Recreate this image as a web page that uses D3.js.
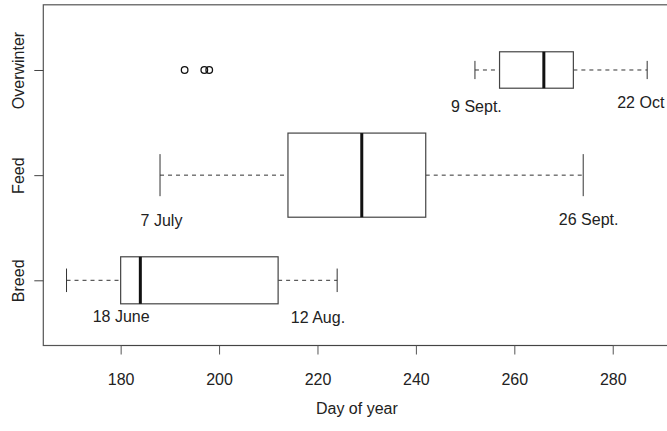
<!DOCTYPE html>
<html>
<head>
<meta charset="utf-8">
<script src="https://cdn.jsdelivr.net/npm/d3@7"></script>
<style>
  body { margin: 0; background: #fff; }
  svg text { font-family: "Liberation Sans", Arial, sans-serif; font-size: 16px; fill: #222; }
</style>
</head>
<body>
<div id="chart"></div>
<script>
// boxplot stats, one entry per stage (bottom to top)
const stages = ["Breed", "Feed", "Overwinter"];
const counts = [10, 32, 6];
const whiskerLow = [169, 188, 252];
const lowerQuart = [180, 214, 257];
const medians = [184, 229, 266];
const upperQuart = [212, 242, 272];
const whiskerHigh = [224, 274, 287];
const outliers = [[], [], [193, 197, 198]];
const xTicks = [180, 200, 220, 240, 260, 280];

// date notes, placed in data units (day, stage position)
const noteText = ["18 June", "12 Aug.", "7 July", "26 Sept.", "9 Sept.", "22 Oct"];
const noteDay = [180.1, 220.1, 188.3, 275.1, 252.3, 285.7];
const notePos = [0.663, 0.647, 1.568, 1.584, 2.66, 2.69];

let width = 667;
let height = 431;

let svg = d3.select("#chart").append("svg")
    .attr("width", width)
    .attr("height", height);

let x = d3.scaleLinear()
    .domain([164.28, 291.72])
    .range([43.3, 670.4]);

let y = d3.scaleLinear()
    .domain([0.38, 3.62])
    .range([345.5, 4.8]);

let unit = y(1) - y(2);
let maxRoot = d3.max(counts, c => Math.sqrt(c));

let data = stages.map((s, i) => ({
    name: s,
    pos: i + 1,
    half: 0.4 * unit * Math.sqrt(counts[i]) / maxRoot,
    lo: whiskerLow[i], q1: lowerQuart[i], med: medians[i], q3: upperQuart[i], hi: whiskerHigh[i],
    out: outliers[i]
}));

// frame
svg.append("rect")
    .attr("x", x.range()[0])
    .attr("y", y.range()[1])
    .attr("width", x.range()[1] - x.range()[0])
    .attr("height", y.range()[0] - y.range()[1])
    .attr("fill", "none")
    .attr("stroke", "#555")
    .attr("stroke-width", 1.2);

let g = svg.append("g");

const box = g.selectAll("g.box").data(data).enter().append("g").attr("class", "box");

// whiskers
box.append("line")
    .attr("x1", d => x(d.lo)).attr("x2", d => x(d.q1))
    .attr("y1", d => y(d.pos)).attr("y2", d => y(d.pos))
    .attr("stroke", "#333").attr("stroke-dasharray", "4,4");
box.append("line")
    .attr("x1", d => x(d.q3)).attr("x2", d => x(d.hi))
    .attr("y1", d => y(d.pos)).attr("y2", d => y(d.pos))
    .attr("stroke", "#333").attr("stroke-dasharray", "4,4");

// staples
box.selectAll("line.cap").data(d => [d.lo, d.hi].map(v => ({v: v, d: d}))).enter()
    .append("line")
    .attr("class", "cap")
    .attr("x1", e => x(e.v)).attr("x2", e => x(e.v))
    .attr("y1", e => y(e.d.pos) - e.d.half / 2)
    .attr("y2", e => y(e.d.pos) + e.d.half / 2)
    .attr("stroke", "#333");

// box
box.append("rect")
    .attr("x", d => x(d.q1))
    .attr("y", d => y(d.pos) - d.half)
    .attr("width", d => x(d.q3) - x(d.q1))
    .attr("height", d => 2 * d.half)
    .attr("fill", "#fff")
    .attr("stroke", "#444")
    .attr("stroke-width", 1.2);

// median
box.append("line")
    .attr("x1", d => x(d.med)).attr("x2", d => x(d.med))
    .attr("y1", d => y(d.pos) - d.half)
    .attr("y2", d => y(d.pos) + d.half)
    .attr("stroke", "#111")
    .attr("stroke-width", 3);

// outliers
box.selectAll("circle").data(d => d.out.map(v => ({v: v, pos: d.pos}))).enter()
    .append("circle")
    .attr("cx", e => x(e.v))
    .attr("cy", e => y(e.pos))
    .attr("r", 3.3)
    .attr("fill", "none")
    .attr("stroke", "#111")
    .attr("stroke-width", 1.3);

// notes
g.selectAll("text.note").data(noteText).enter().append("text")
    .attr("class", "note")
    .attr("x", (t, i) => x(noteDay[i]))
    .attr("y", (t, i) => y(notePos[i]))
    .attr("dy", "0.36em")
    .attr("text-anchor", "middle")
    .text(t => t);

// x axis
let xAxis = svg.append("g")
    .attr("transform", `translate(0,${y.range()[0]})`)
    .call(d3.axisBottom(x).tickValues(xTicks).tickSize(9).tickSizeOuter(0));
xAxis.select(".domain")
    .attr("d", `M${x(xTicks[0])},0H${x(xTicks[xTicks.length - 1])}`)
    .attr("stroke", "#444");
xAxis.selectAll(".tick line").attr("stroke", "#555");
xAxis.selectAll(".tick text")
    .attr("y", 39.5).attr("dy", null)
    .style("font-size", "16px").style("font-family", null);

// y axis
let yAxis = svg.append("g")
    .attr("transform", `translate(${x.range()[0]},0)`)
    .call(d3.axisLeft(y).tickValues([1, 2, 3]).tickFormat((v, i) => stages[i]).tickSize(9).tickSizeOuter(0));
yAxis.select(".domain").remove();
yAxis.selectAll(".tick line").attr("stroke", "#444");
yAxis.selectAll(".tick text")
    .attr("x", null).attr("dy", null)
    .attr("text-anchor", "middle")
    .attr("transform", "translate(-19,0) rotate(-90)")
    .style("font-size", "16px").style("font-family", null);

svg.append("text")
    .attr("x", (x.range()[0] + x.range()[1]) / 2)
    .attr("y", 413.5)
    .attr("text-anchor", "middle")
    .text("Day of year");
</script>
</body>
</html>
